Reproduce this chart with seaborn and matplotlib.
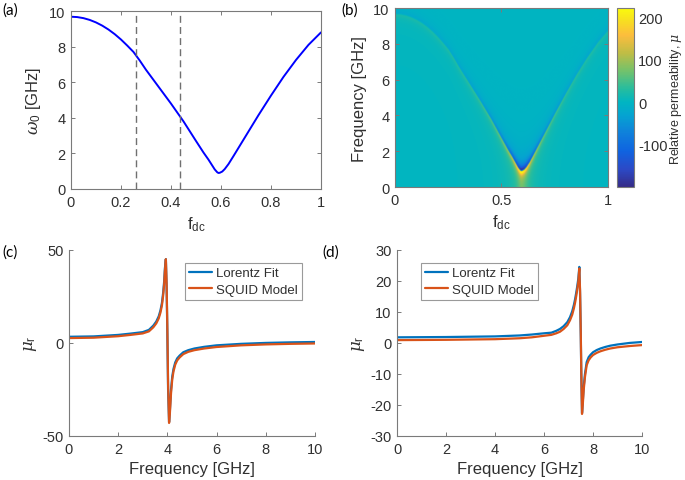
import numpy as np
import matplotlib as mpl
import matplotlib.pyplot as plt
from matplotlib.colors import LinearSegmentedColormap
import seaborn as sns

# colores estilo MATLAB
BLUE_A = '#0000ff'
M_BLUE = '#0072bd'
M_ORANGE = '#d95319'
TXT = '#303030'
AXC = '#7a7a7a'

# (a) frecuencia de resonancia vs flujo
fdc_pts = [0.0, 0.025, 0.05, 0.075, 0.1, 0.125, 0.15, 0.175, 0.2, 0.225, 0.25,
           0.275, 0.3, 0.35, 0.4, 0.45, 0.5, 0.53, 0.55, 0.565, 0.575, 0.585, 0.59,
           0.595, 0.605, 0.615, 0.63, 0.65, 0.7, 0.75, 0.8, 0.85, 0.9, 0.95, 1.0]
w0_pts = [9.68, 9.66, 9.6, 9.5, 9.36, 9.18, 8.96, 8.7, 8.4, 8.06, 7.7,
          7.22, 6.7, 5.75, 4.8, 3.8, 2.7, 2.05, 1.65, 1.32, 1.1, 0.94, 0.9,
          0.91, 0.98, 1.12, 1.4, 1.85, 3.0, 4.15, 5.25, 6.3, 7.25, 8.1, 8.8]
marker_fdc = [0.26, 0.435]

# (b) parametros del mapa (fuerza y ancho de la resonancia)
A_STRENGTH = 60.0
GAMMA = 0.16

# (c) resonancia en 4 GHz
freq_c = [0, 1, 2, 2.5, 3, 3.25, 3.43, 3.55, 3.65, 3.72, 3.78, 3.83, 3.87, 3.9,
          3.94, 3.97, 4.0, 4.03, 4.07, 4.1, 4.15, 4.2, 4.25, 4.32, 4.4, 4.5,
          4.65, 4.85, 5.1, 5.5, 6, 7, 8, 9, 10]
lorentz_c = [3.3, 3.5, 4.3, 5.0, 5.8, 7.0, 9.3, 11.5, 14.3, 17.5, 21.5, 27, 33,
             40, 45, 30, 5, -25, -42.5, -37, -25, -18, -14, -10.5, -8.3, -6.8,
             -5, -3.9, -3, -2.1, -1.3, -0.5, 0, 0.3, 0.5]
squid_c = [2.6, 2.8, 3.6, 4.3, 5.1, 6.2, 8.4, 10.5, 13.2, 16.3, 20.2, 25.5, 31.5,
           38.5, 45, 32, 8, -22, -43, -38.5, -27, -19.5, -15.3, -11.7, -9.4,
           -7.8, -6, -4.8, -3.9, -3.0, -2.2, -1.3, -0.8, -0.5, -0.3]

# (d) resonancia en 7.5 GHz
freq_d = [0, 2, 4, 5, 5.5, 6, 6.3, 6.5, 6.65, 6.8, 6.95, 7.06, 7.15, 7.22, 7.27,
          7.32, 7.36, 7.4, 7.44, 7.47, 7.5, 7.52, 7.55, 7.58, 7.62, 7.67, 7.74,
          7.82, 7.9, 8.0, 8.15, 8.3, 8.5, 8.7, 9.0, 9.5, 10]
lorentz_d = [1.8, 1.9, 2.1, 2.4, 2.7, 3.1, 3.3, 3.9, 4.5, 5.4, 6.7, 8.3, 10.2,
             12.3, 14.2, 16.5, 18.5, 20.8, 24.5, 16, 2, -10, -22.5, -19, -14,
             -10, -6.2, -4.6, -3.8, -3.0, -2.3, -1.8, -1.3, -0.9, -0.5, 0, 0.3]
squid_d = [0.9, 1.0, 1.2, 1.5, 1.8, 2.3, 2.6, 3.1, 3.6, 4.5, 5.7, 7.3, 9.1,
           11.2, 13.1, 15.4, 17.5, 19.8, 24.0, 17, 3, -9, -22.9, -20, -15,
           -11, -7.2, -5.6, -4.7, -3.9, -3.2, -2.7, -2.2, -1.8, -1.4, -1.0, -0.7]

# mapa de color tipo parula, ajustado al de la figura
CMAP_POS = [0.0, 0.1, 0.2, 0.3, 0.4, 0.475, 0.55, 0.65, 0.75, 0.85, 0.93, 1.0]
CMAP_COL = [(0.21, 0.17, 0.53), (0.17, 0.29, 0.78), (0.06, 0.39, 0.88),
            (0.06, 0.50, 0.86), (0.02, 0.64, 0.82), (0.0, 0.71, 0.76),
            (0.15, 0.74, 0.62), (0.45, 0.76, 0.42), (0.75, 0.74, 0.27),
            (0.99, 0.74, 0.24), (0.97, 0.87, 0.13), (0.98, 0.98, 0.05)]
parula = LinearSegmentedColormap.from_list('parula', list(zip(CMAP_POS, CMAP_COL)))

sns.set_style('white')
plt.rcParams['font.family'] = ['Liberation Sans', 'DejaVu Sans']
plt.rcParams['mathtext.fontset'] = 'custom'
plt.rcParams['mathtext.rm'] = 'Liberation Sans'
plt.rcParams['mathtext.it'] = 'DejaVu Serif:italic'
plt.rcParams['axes.unicode_minus'] = False
plt.rcParams['text.color'] = TXT
plt.rcParams['axes.labelcolor'] = TXT
plt.rcParams['xtick.color'] = TXT
plt.rcParams['ytick.color'] = TXT

fig = plt.figure(figsize=(6.85, 4.81), dpi=100)


def style_ax(ax, box=True):
    for name, sp in ax.spines.items():
        sp.set_color(AXC)
        sp.set_linewidth(0.8)
        if not box and name in ('top', 'right'):
            sp.set_visible(False)
    ax.tick_params(direction='in', length=3, width=0.7, color=AXC, labelsize=10.5,
                   top=box, right=box, bottom=True, left=True, pad=4)


# (a)
ax1 = fig.add_axes([0.1036, 0.605, 0.365, 0.370])
sns.lineplot(x=fdc_pts, y=w0_pts, ax=ax1, color=BLUE_A, linewidth=1.4)
for xv in marker_fdc:
    ax1.axvline(xv, color='#707070', linestyle=(0, (5, 3)), linewidth=1.0)
ax1.set_xlim(0, 1)
ax1.set_ylim(0, 10)
ax1.set_xticks([0, 0.2, 0.4, 0.6, 0.8, 1])
ax1.set_xticklabels(['0', '0.2', '0.4', '0.6', '0.8', '1'])
ax1.set_yticks([0, 2, 4, 6, 8, 10])
ax1.set_xlabel(r'f$_{\rm dc}$', fontsize=12)
ax1.set_ylabel(r'$\omega_0$ [GHz]', fontsize=12)
style_ax(ax1)

# (b) mapa de permeabilidad
ax2 = fig.add_axes([0.5766, 0.609, 0.311, 0.372])
fdc_grid = np.linspace(0, 1, 500)
f_grid = np.linspace(0, 10, 1200)
f0 = np.interp(fdc_grid, fdc_pts, w0_pts)
F0, FF = np.meshgrid(f0, f_grid)
mu = np.real(1 + A_STRENGTH / (F0 ** 2 - FF ** 2 - 1j * GAMMA * FF))
im = ax2.imshow(mu, origin='lower', extent=[0, 1, 0, 10], aspect='auto',
                cmap=parula, vmin=-200, vmax=221, interpolation='bilinear')
ax2.set_xticks([0, 0.5, 1])
ax2.set_xticklabels(['0', '0.5', '1'])
ax2.set_yticks([0, 2, 4, 6, 8, 10])
ax2.set_xlabel(r'f$_{\rm dc}$', fontsize=12)
ax2.set_ylabel('Frequency [GHz]', fontsize=12)
style_ax(ax2)

cax = fig.add_axes([0.9007, 0.609, 0.0248, 0.372])
cb = fig.colorbar(im, cax=cax)
cb.set_ticks([-100, 0, 100, 200])
cb.outline.set_edgecolor(AXC)
cb.outline.set_linewidth(0.8)
cax.tick_params(direction='in', length=3, color=AXC, labelsize=10.5, pad=3)
cb.set_label(r'Relative permeability, $\mu$', fontsize=9, labelpad=0)

# (c)
ax3 = fig.add_axes([0.1007, 0.0915, 0.359, 0.387])
sns.lineplot(x=freq_c, y=lorentz_c, ax=ax3, color=M_BLUE, linewidth=1.6, label='Lorentz Fit')
sns.lineplot(x=freq_c, y=squid_c, ax=ax3, color=M_ORANGE, linewidth=1.6, label='SQUID Model')
ax3.set_xlim(0, 10)
ax3.set_ylim(-50, 50)
ax3.set_yticks([-50, 0, 50])
ax3.set_xticks([0, 2, 4, 6, 8, 10])
ax3.set_xlabel('Frequency [GHz]', fontsize=12)
ax3.set_ylabel(r'$\mu_{\rm r}$', fontsize=12, labelpad=2)
style_ax(ax3, box=False)
leg = ax3.legend(loc='upper right', bbox_to_anchor=(0.975, 0.965), fontsize=9.5,
                 handlelength=1.8, handletextpad=0.3, borderpad=0.3, labelspacing=0.35,
                 fancybox=False, edgecolor='#9a9a9a', framealpha=1)
leg.get_frame().set_linewidth(0.8)

# (d)
ax4 = fig.add_axes([0.5796, 0.0915, 0.3577, 0.387])
sns.lineplot(x=freq_d, y=lorentz_d, ax=ax4, color=M_BLUE, linewidth=1.6, label='Lorentz Fit')
sns.lineplot(x=freq_d, y=squid_d, ax=ax4, color=M_ORANGE, linewidth=1.6, label='SQUID Model')
ax4.set_xlim(0, 10)
ax4.set_ylim(-30, 30)
ax4.set_yticks([-30, -20, -10, 0, 10, 20, 30])
ax4.set_xticks([0, 2, 4, 6, 8, 10])
ax4.set_xlabel('Frequency [GHz]', fontsize=12)
ax4.set_ylabel(r'$\mu_{\rm r}$', fontsize=12, labelpad=2)
style_ax(ax4, box=False)
leg = ax4.legend(loc='upper left', bbox_to_anchor=(0.07, 0.965), fontsize=9.5,
                 handlelength=1.8, handletextpad=0.3, borderpad=0.3, labelspacing=0.35,
                 fancybox=False, edgecolor='#9a9a9a', framealpha=1)
leg.get_frame().set_linewidth(0.8)

# etiquetas de panel
for lbl, (px, py) in zip(['(a)', '(b)', '(c)', '(d)'],
                         [(2, 3), (341, 3), (2, 245), (322, 245)]):
    fig.text(px / 685, 1 - py / 481, lbl, fontsize=11, family='Lato',
             color='black', va='top', ha='left')

fig.savefig('out.png', dpi=100)
